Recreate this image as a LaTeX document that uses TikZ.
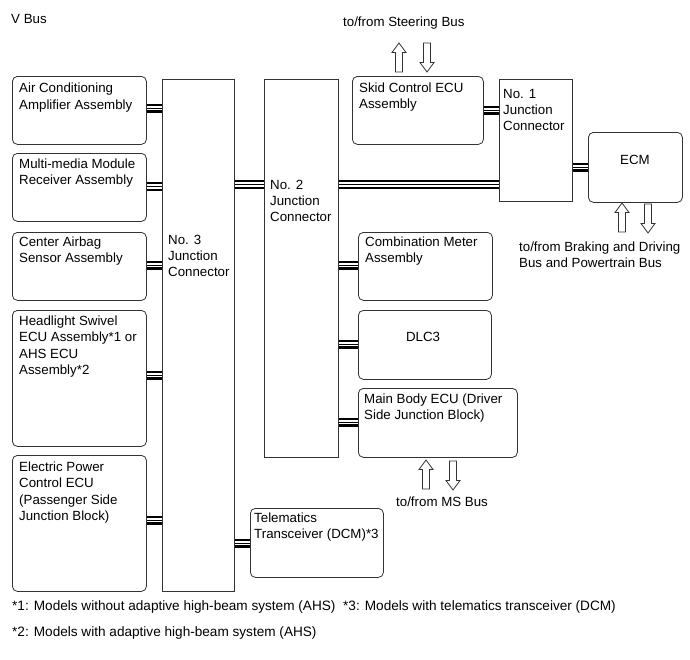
\documentclass[tikz,border=0pt]{standalone}
\usepackage{fontspec}
\setmainfont{Liberation Sans}
\begin{document}
\begin{tikzpicture}[x=1pt,y=-1pt,
  rbox/.style={draw=black!80, line width=0.8pt, rounded corners=5pt, anchor=north west, inner sep=0pt},
  jbox/.style={draw=black!80, line width=0.8pt, anchor=north west, inner sep=0pt},
  txt/.style={anchor=north west, align=left, inner sep=0pt, font=\fontsize{13.3}{16.3}\selectfont},
  ftxt/.style={anchor=north west, align=left, inner sep=0pt, font=\fontsize{13.6}{16.3}\selectfont},
  ctxt/.style={anchor=base, inner sep=0pt, font=\fontsize{13.3}{16.3}\selectfont},
  bus/.style={line width=0.9pt, preaction={draw=black, line width=9pt}, preaction={draw=white, line width=4.5pt}},
  arr/.style={draw=black!80, line width=0.8pt, fill=white, line join=miter},
  uparr/.pic={\draw[arr] (-3.5,0) -- (-3.5,-19.5) -- (-7,-19.5) -- (0,-29) -- (7,-19.5) -- (3.5,-19.5) -- (3.5,0) -- cycle;},
  dnarr/.pic={\draw[arr] (-3.5,0) -- (-3.5,19.5) -- (-7,19.5) -- (0,29) -- (7,19.5) -- (3.5,19.5) -- (3.5,0) -- cycle;}
]
\useasboundingbox[fill=white] (0,0) rectangle (690,659);

% boxes
\node[rbox, minimum width=134pt, minimum height=68pt] (ac) at (12,76) {};
\node[rbox, minimum width=134pt, minimum height=68pt] (mm) at (12,153) {};
\node[rbox, minimum width=134pt, minimum height=68pt] (ab) at (12,232) {};
\node[rbox, minimum width=134pt, minimum height=136pt] (hl) at (12,310) {};
\node[rbox, minimum width=134pt, minimum height=136pt] (ep) at (12,455) {};
\node[jbox, minimum width=72pt, minimum height=512pt] (no3) at (162,79) {};
\node[jbox, minimum width=74pt, minimum height=378pt] (no2) at (264,79) {};
\node[rbox, minimum width=131pt, minimum height=68pt] (skid) at (352,76) {};
\node[jbox, minimum width=73pt, minimum height=122pt] (no1) at (499,79) {};
\node[rbox, minimum width=94pt, minimum height=70pt] (ecm) at (588,132) {};
\node[rbox, minimum width=134pt, minimum height=68pt] (comb) at (358,232) {};
\node[rbox, minimum width=133pt, minimum height=69pt] (dlc) at (358,310) {};
\node[rbox, minimum width=159pt, minimum height=69pt] (mb) at (358,388) {};
\node[rbox, minimum width=133pt, minimum height=69pt] (tel) at (250,508) {};

% buses
\draw[bus] (ac.east |- 0,108) -- (no3.west |- 0,108);
\draw[bus] (mm.east |- 0,186.5) -- (no3.west |- 0,186.5);
\draw[bus] (ab.east |- 0,265) -- (no3.west |- 0,265);
\draw[bus] (hl.east |- 0,375) -- (no3.west |- 0,375);
\draw[bus] (ep.east |- 0,520) -- (no3.west |- 0,520);
\draw[bus] (no3.east |- 0,184.5) -- (no2.west |- 0,184.5);
\draw[bus] (no3.east |- 0,543) -- (tel.west |- 0,543);
\draw[bus] (no2.east |- 0,184.5) -- (no1.west |- 0,184.5);
\draw[bus] (skid.east |- 0,110) -- (no1.west |- 0,110);
\draw[bus] (no1.east |- 0,167) -- (ecm.west |- 0,167);
\draw[bus] (no2.east |- 0,265) -- (comb.west |- 0,265);
\draw[bus] (no2.east |- 0,344) -- (dlc.west |- 0,344);
\draw[bus] (no2.east |- 0,422) -- (mb.west |- 0,422);

% arrows
\pic (stup) at (399,72) {uparr};
\pic (stdn) at (427,43) {dnarr};
\pic (ecmup) at (622,232) {uparr};
\pic (ecmdn) at (648,204) {dnarr};
\pic (msup) at (426,489) {uparr};
\pic (msdn) at (453,461) {dnarr};

% texts
\node[txt] (tvbus) at (11,14) {V Bus};
\node[txt] (tac) at (19,83) {Air Conditioning\\Amplifier Assembly};
\node[txt] (tmm) at (19,158.6) {Multi-media Module\\Receiver Assembly};
\node[txt] (tab) at (19,236.6) {Center Airbag\\Sensor Assembly};
\node[txt] (thl) at (19,315.6) {Headlight Swivel\\ECU Assembly*1 or\\AHS ECU\\Assembly*2};
\node[txt] (tep) at (19,461.6) {Electric Power\\Control ECU\\(Passenger Side\\Junction Block)};
\node[txt] (tno3) at (168,234.6) {No. 3\\Junction\\Connector};
\node[txt] (tno2) at (270,179.6) {No. 2\\Junction\\Connector};
\node[txt] (tno1) at (503,89) {No. 1\\Junction\\Connector};
\node[txt] (tskid) at (359,82.6) {Skid Control ECU\\Assembly};
\node[ctxt] (tecm) at (635,164) {ECM};
\node[txt] (tcomb) at (365,236.3) {Combination Meter\\Assembly};
\node[ctxt] (tdlc) at (423,341.7) {DLC3};
\node[txt] (tmb) at (364,393.6) {Main Body ECU (Driver\\Side Junction Block)};
\node[txt] (ttel) at (254,512.6) {Telematics\\Transceiver (DCM)*3};
\node[txt] (tsteer) at (343,16.6) {to/from Steering Bus};
\node[txt] (tbrake) at (519,241.3) {to/from Braking and Driving\\Bus and Powertrain Bus};
\node[txt] (tms) at (396,496.6) {to/from MS Bus};
\node[ftxt] (fn1) at (12,600.6) {*1: Models without adaptive high-beam system (AHS)};
\node[ftxt] (fn3) at (343,600.6) {*3: Models with telematics transceiver (DCM)};
\node[ftxt] (fn2) at (12,626.6) {*2: Models with adaptive high-beam system (AHS)};
\end{tikzpicture}
\end{document}
